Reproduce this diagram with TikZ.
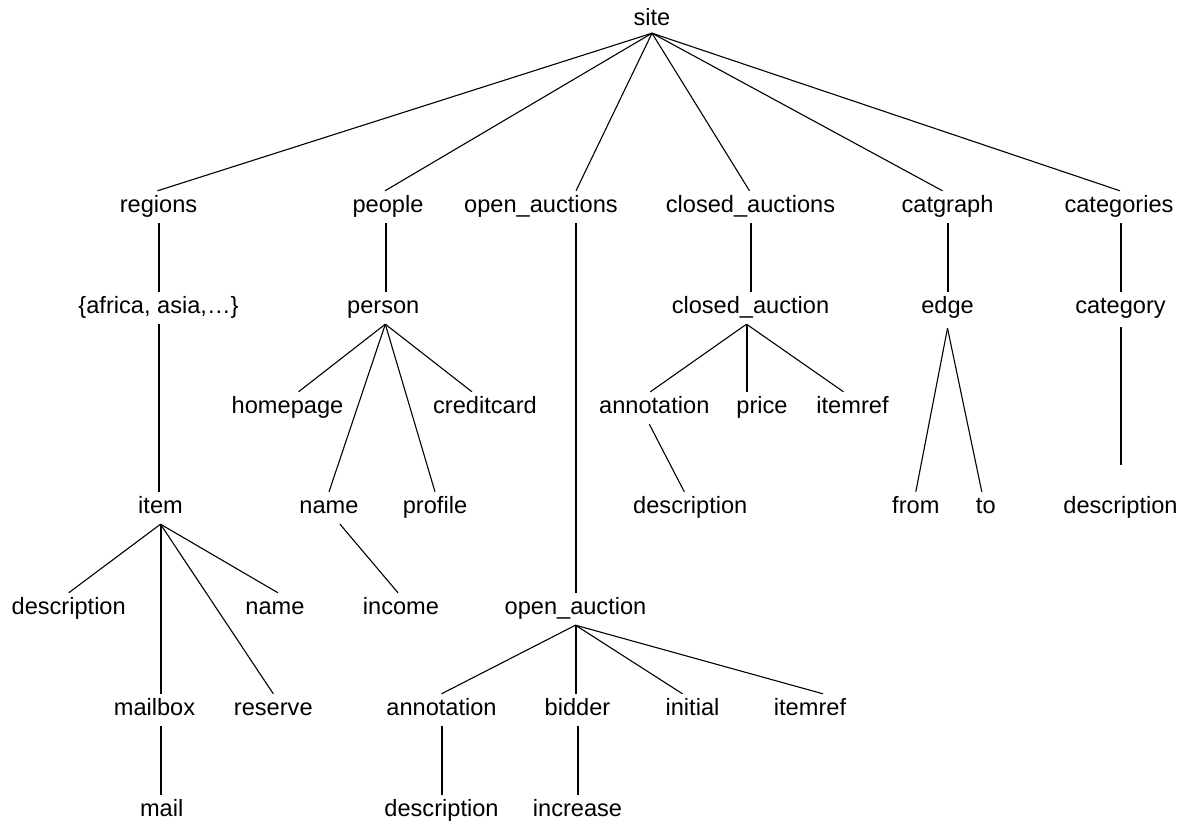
\documentclass[tikz,border=0pt]{standalone}
\usepackage{fontspec}
\setmainfont{Liberation Sans}
\begin{document}
\begin{tikzpicture}[x=1pt,y=-1pt,
  lbl/.style={font=\fontsize{23.6}{28}\selectfont, inner sep=0pt, text height=21pt, text depth=11pt, anchor=base},
  conn/.style={draw=black, line width=1.1pt},
  vconn/.style={draw=black, line width=2pt}]
\useasboundingbox (0,0) rectangle (1188,821);
% row 0
\node[lbl, text depth=7pt] (site) at (652,26) {site};
% row 1
\node[lbl] (regions) at (158.5,212) {regions};
\node[lbl] (people) at (388,212) {people};
\node[lbl] (oas) at (541,212) {open\_auctions};
\node[lbl] (cas) at (750.5,212) {closed\_auctions};
\node[lbl] (catgraph) at (947.5,212) {catgraph};
\node[lbl] (categories) at (1119,212) {categories};
% row 2
\node[lbl] (africa) at (158.5,313) {\{africa, asia,…\}};
\node[lbl] (person) at (383.3,313) {person};
\node[lbl] (cauction) at (750.5,313) {closed\_auction};
\node[lbl] (edge) at (947.5,313) {edge};
\node[lbl] (category) at (1120.5,313) {category};
% row 3
\node[lbl] (homepage) at (287.5,413) {homepage};
\node[lbl] (creditcard) at (485,413) {creditcard};
\node[lbl] (cannot) at (654.3,413) {annotation};
\node[lbl] (price) at (762,413) {price};
\node[lbl] (citemref) at (852.5,413) {itemref};
% row 4
\node[lbl] (item) at (160.5,513) {item};
\node[lbl] (pname) at (329,513) {name};
\node[lbl] (profile) at (435,513) {profile};
\node[lbl] (cdesc) at (690.3,513) {description};
\node[lbl] (fromnode) at (915.8,513) {from};
\node[lbl] (tonode) at (985.8,513) {to};
\node[lbl] (catdesc) at (1120.5,513) {description};
% row 5
\node[lbl] (idesc) at (68.7,614) {description};
\node[lbl] (iname) at (275,614) {name};
\node[lbl] (income) at (401,614) {income};
\node[lbl] (oauction) at (575.5,614) {open\_auction};
% row 6
\node[lbl] (mailbox) at (154.5,715) {mailbox};
\node[lbl] (reserve) at (273.3,715) {reserve};
\node[lbl] (oannot) at (441.5,715) {annotation};
\node[lbl] (bidder) at (577.5,715) {bidder};
\node[lbl] (initial) at (692.5,715) {initial};
\node[lbl] (oitemref) at (810,715) {itemref};
% row 7
\node[lbl] (mail) at (161.7,816) {mail};
\node[lbl] (odesc) at (441.5,816) {description};
\node[lbl] (increase) at (577.5,816) {increase};

% site fan
\draw[conn] (site.south) -- ([xshift=-1pt]regions.north);
\draw[conn] (site.south) -- ([xshift=-3pt]people.north);
\draw[conn] (site.south) -- ([xshift=35pt]oas.north);
\draw[conn] (site.south) -- ([xshift=-1pt]cas.north);
\draw[conn] (site.south) -- ([xshift=-5pt]catgraph.north);
\draw[conn] (site.south) -- ([xshift=1pt]categories.north);
% regions branch
\draw[vconn] (regions.south) -- (regions.south |- africa.north);
\draw[vconn] (africa.south) -- (africa.south |- item.north);
\draw[conn] (item.south) -- (idesc.north);
\draw[conn] (item.south) -- ([xshift=3pt]iname.north);
\draw[vconn] (item.south) -- (item.south |- mailbox.north);
\draw[conn] (item.south) -- (reserve.north);
\draw[vconn] ([xshift=6pt]mailbox.south) -- ([xshift=6pt]mailbox.south |- mail.north);
% people branch
\draw[vconn] ([xshift=-2.5pt]people.south) -- ([xshift=-2.5pt]people.south |- person.north);
\draw[conn] ([xshift=2pt]person.south) -- ([xshift=11pt]homepage.north);
\draw[conn] ([xshift=2pt]person.south) -- (pname.north);
\draw[conn] ([xshift=2pt]person.south) -- (profile.north);
\draw[conn] ([xshift=2pt]person.south) -- ([xshift=-13pt]creditcard.north);
\draw[conn] ([xshift=11pt]pname.south) -- ([xshift=-3pt]income.north);
% open auctions branch
\draw[vconn] (oauction.north |- oas.south) -- (oauction.north);
\draw[conn] (oauction.south) -- (oannot.north);
\draw[vconn] (oauction.south) -- (oauction.south |- bidder.north);
\draw[conn] (oauction.south) -- ([xshift=-10pt]initial.north);
\draw[conn] (oauction.south) -- ([xshift=13pt]oitemref.north);
\draw[vconn] (oannot.south) -- (oannot.south |- odesc.north);
\draw[vconn] (bidder.south) -- (bidder.south |- increase.north);
% closed auctions branch
\draw[vconn] (cas.south) -- (cas.south |- cauction.north);
\draw[conn] ([xshift=-4pt]cauction.south) -- ([xshift=-4pt]cannot.north);
\draw[vconn] ([xshift=-4pt]cauction.south) -- ([xshift=-4pt]cauction.south |- price.north);
\draw[conn] ([xshift=-4pt]cauction.south) -- ([xshift=-9pt]citemref.north);
\draw[conn] ([xshift=-5pt]cannot.south) -- ([xshift=-6pt]cdesc.north);
% catgraph branch
\draw[vconn] (catgraph.south) -- (catgraph.south |- edge.north);
\draw[conn] ([yshift=-4pt]edge.south) -- (fromnode.north);
\draw[conn] ([yshift=-4pt]edge.south) -- ([xshift=-4pt]tonode.north);
% categories branch
\draw[vconn] (category.north |- categories.south) -- (category.north);
\draw[vconn] ([yshift=-3pt]category.south) -- ([yshift=27pt]catdesc.north);
\end{tikzpicture}
\end{document}
